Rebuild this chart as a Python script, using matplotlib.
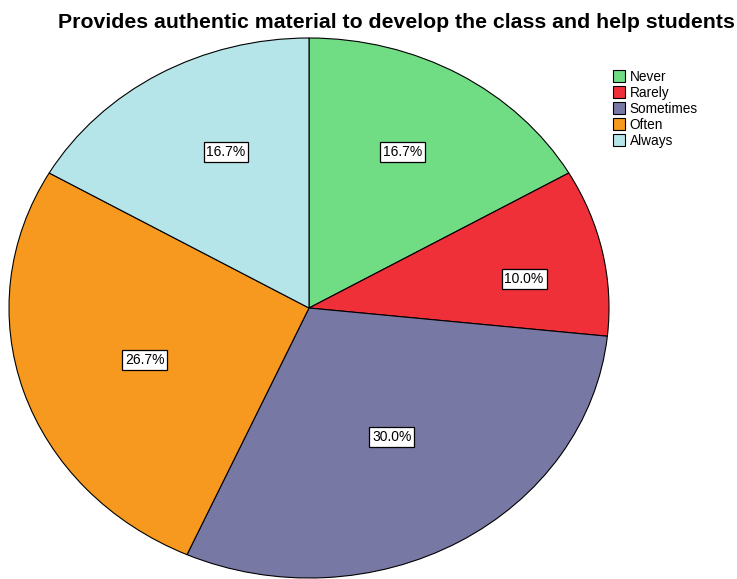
import numpy as np
import matplotlib
matplotlib.use("Agg")
import matplotlib.pyplot as plt
from matplotlib.patches import Patch

plt.rcParams['font.family'] = ['Liberation Sans', 'DejaVu Sans']

categories = ["Never", "Rarely", "Sometimes", "Often", "Always"]
counts = [5, 3, 9, 8, 5]
colors = ["#70dc84", "#ef3039", "#7878a5", "#f7991e", "#b5e5e8"]
title = "Provides authentic material to develop the class and help students"

W, H = 737, 579
fig = plt.figure(figsize=(W / 100, H / 100), dpi=100)

# elliptical pie: centre (309, 308) px, radii 300 x 270 px
cx, cy, rx, ry = 309, 308, 300, 270
ax = fig.add_axes([(cx - rx) / W, (H - cy - ry) / H, 2 * rx / W, 2 * ry / H])

wedges, _ = ax.pie(
    counts,
    colors=colors,
    startangle=90,
    counterclock=False,
    wedgeprops=dict(edgecolor="black", linewidth=0.8),
)
ax.set_aspect("auto")
ax.set_xlim(-1, 1)
ax.set_ylim(-1, 1)

# percentage labels (radius and small angle nudge per slice)
total = sum(counts)
label_r = [0.657, 0.725, 0.552, 0.58, 0.641]
label_dang = [1.6, -3.5, 0.0, 1.4, -4.4]
for w, c, r, da in zip(wedges, counts, label_r, label_dang):
    ang = np.deg2rad((w.theta1 + w.theta2) / 2 + da)
    ax.text(
        r * np.cos(ang), r * np.sin(ang),
        f"{100 * c / total:.1f}%",
        ha="center", va="center", fontsize=10,
        bbox=dict(boxstyle="square,pad=0.2", facecolor="white",
                  edgecolor="black", linewidth=0.9),
    )

fig.text(396 / W, 1 - 22 / H, title, ha="center", va="center",
         fontsize=15.3, fontweight="bold")

handles = [Patch(facecolor=col, edgecolor="black", linewidth=0.8) for col in colors]
fig.legend(
    handles, categories,
    loc="upper left", bbox_to_anchor=(603 / W, 1 - 60 / H),
    frameon=False, fontsize=9.8,
    handlelength=0.95, handleheight=0.95, handletextpad=0.3,
    labelspacing=0.15, borderpad=0.2,
)

fig.savefig("out.png", dpi=100)
